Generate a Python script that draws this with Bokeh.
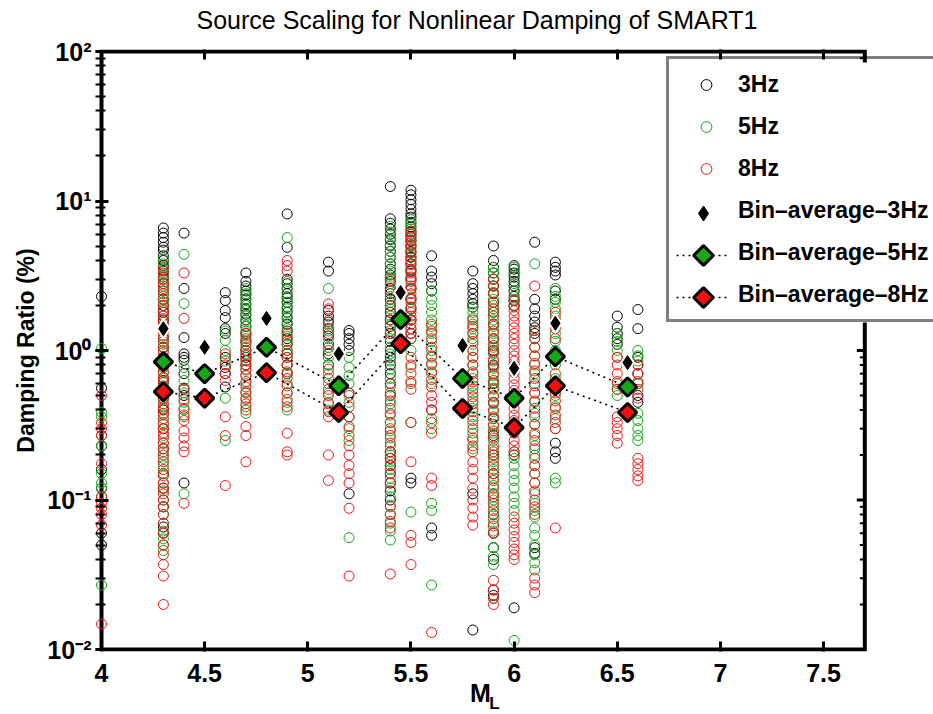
import numpy as np
from bokeh.plotting import figure
from bokeh.models import (Range1d, LinearAxis, FixedTicker,
                          CustomJSTickFormatter, Legend, LegendItem, Label)
from bokeh.embed import file_html
from bokeh.resources import INLINE

FONT = "Liberation Sans"

title_text = "Source Scaling for Nonlinear Damping of SMART1"
y_label = "Damping Ratio (%)"
x_label_main, x_label_sub = "M", "L"
x_ticks = [4.0, 4.5, 5.0, 5.5, 6.0, 6.5, 7.0, 7.5]
y_major_ticks = [0.01, 0.1, 1, 10, 100]
series_labels = ["3Hz", "5Hz", "8Hz",
                 "Bin\u2013average\u20133Hz", "Bin\u2013average\u20135Hz", "Bin\u2013average\u20138Hz"]
axis_x_limits = (4.0, 7.7)
axis_y_limits = (0.01, 100.0)

# damping ratio (%) per local magnitude M_L, for each frequency
damping_3hz = {
    4.0: [2.3, 0.56, 0.23, 0.16, 0.12, 0.06, 0.05],
    4.3: [6.6, 6.1, 5.7, 5.3, 4.9, 4.7, 4.3, 4.0, 3.7, 3.4, 3.1, 2.8, 2.5, 2.2, 2.0, 1.8, 1.6, 1.4,
          1.2, 1.05, 0.9, 0.63, 0.5, 0.4, 0.3, 0.22, 0.15, 0.12, 0.09, 0.066, 0.06],
    4.4: [6.1, 2.6, 1.22, 0.95, 0.9, 0.86, 0.7, 0.56, 0.5, 0.13],
    4.6: [2.44, 2.16, 1.85, 1.66, 1.4, 1.3, 0.9, 0.77, 0.7, 0.57],
    4.7: [3.3, 2.9, 2.7, 2.5, 2.35, 2.2, 2.05, 1.9, 1.75, 1.6, 1.45, 1.3, 1.15, 1.0, 0.9, 0.8],
    4.9: [8.2, 4.9, 3.0, 2.8, 2.6, 2.4, 2.25, 2.1, 1.95, 1.8, 1.65, 1.5, 1.35, 1.2, 1.1, 0.95, 0.8, 0.7],
    5.1: [3.9, 3.4, 1.85, 1.7, 1.55, 1.4, 1.25, 1.1, 0.95, 0.8],
    5.2: [1.36, 1.3, 1.2, 1.1, 1.0, 0.52, 0.11],
    5.4: [12.5, 7.6, 7.1, 6.5, 6.0, 5.5, 5.0, 4.6, 4.2, 3.8, 3.5, 3.2, 2.9, 2.6, 2.4, 2.2, 2.0, 1.8,
          1.6, 1.45, 1.3, 1.15, 1.0, 0.9, 0.8, 0.7, 0.6, 0.5, 0.21, 0.19, 0.17, 0.15, 0.13, 0.115, 0.1],
    5.5: [11.8, 11.0, 10.2, 9.5, 8.8, 8.2, 7.8, 7.2, 6.7, 6.2, 5.8, 5.4, 5.0, 4.6, 4.2, 3.8, 3.4, 3.0,
          2.6, 2.2, 1.9, 1.6, 1.3, 0.14, 0.13],
    5.6: [4.3, 3.4, 3.1, 2.8, 2.5, 0.4, 0.065, 0.058],
    5.8: [3.4, 2.8, 2.6, 2.4, 2.2, 2.05, 1.95, 0.11, 0.0135],
    5.9: [5.0, 4.0, 3.6, 3.3, 3.0, 2.7, 2.4, 2.1, 1.8, 1.5, 1.2, 1.0, 0.8, 0.6, 0.45, 0.35, 0.27, 0.2,
          0.15, 0.11, 0.08, 0.06, 0.048, 0.04, 0.025, 0.023],
    6.0: [3.7, 3.5, 3.3, 3.1, 2.9, 2.7, 2.5, 2.3, 2.15, 2.0, 0.8, 0.5, 0.3, 0.2, 0.019],
    6.1: [5.3, 2.2, 1.9, 1.7, 1.55, 1.42, 1.3, 0.048, 0.044],
    6.2: [3.9, 3.6, 3.4, 3.2, 2.5, 2.2, 0.24, 0.21, 0.19],
    6.5: [1.7, 1.43, 1.3, 1.2, 1.1],
    6.6: [1.88, 1.4, 0.9, 0.8, 0.7, 0.6, 0.5, 0.45],
}
damping_5hz = {
    4.0: [1.03, 0.385, 0.36, 0.27, 0.23, 0.15, 0.13, 0.12, 0.105, 0.027],
    4.3: [4.1, 3.8, 3.5, 3.2, 3.0, 2.7, 2.5, 2.3, 2.1, 1.9, 1.7, 1.5, 1.35, 1.2, 1.1, 1.0, 0.9, 0.8,
          0.72, 0.65, 0.58, 0.52, 0.47, 0.42, 0.37, 0.33, 0.3, 0.27, 0.24, 0.21, 0.19, 0.17, 0.15,
          0.13, 0.115, 0.1, 0.09, 0.08, 0.07, 0.062, 0.055, 0.05, 0.046],
    4.4: [4.4, 2.06, 0.77, 0.63, 0.52, 0.45, 0.4, 0.36, 0.11],
    4.6: [1.35, 1.17, 1.0, 0.85, 0.48, 0.25],
    4.7: [2.6, 2.4, 2.2, 2.0, 1.85, 1.7, 1.55, 1.45, 1.35, 1.25, 1.15, 1.05, 0.95, 0.85, 0.75, 0.68,
          0.6, 0.53, 0.47, 0.42, 0.38],
    4.9: [5.7, 2.9, 2.6, 2.3, 2.1, 1.9, 1.7, 1.55, 1.4, 1.25, 1.1, 1.0, 0.9, 0.8, 0.7, 0.6, 0.52, 0.45, 0.4],
    5.1: [2.6, 1.5, 1.35, 1.2, 1.05, 0.9, 0.8, 0.7, 0.6, 0.52, 0.45, 0.4],
    5.2: [0.9, 0.77, 0.68, 0.6, 0.45, 0.36, 0.3, 0.25, 0.056],
    5.4: [6.8, 6.2, 5.6, 5.1, 4.6, 4.2, 3.8, 3.4, 3.1, 2.8, 2.5, 2.3, 2.1, 1.9, 1.7, 1.5, 1.35, 1.2,
          1.05, 0.95, 0.85, 0.75, 0.65, 0.57, 0.5, 0.44, 0.38, 0.33, 0.29, 0.26, 0.23, 0.2, 0.18, 0.16,
          0.14, 0.12, 0.105, 0.092, 0.08, 0.07, 0.062, 0.054],
    5.5: [7.5, 7.0, 6.5, 6.0, 5.5, 5.0, 4.5, 4.0, 3.5, 3.0, 2.6, 2.2, 1.9, 1.6, 1.4, 1.2, 1.0, 0.77,
          0.6, 0.33, 0.083],
    5.6: [2.5, 2.2, 2.0, 1.8, 1.6, 1.45, 1.3, 1.15, 1.0, 0.9, 0.8, 0.7, 0.6, 0.35, 0.3, 0.095, 0.085, 0.027],
    5.8: [1.95, 1.8, 1.65, 1.5, 1.4, 1.3, 1.2, 1.1, 1.0, 0.9, 0.8, 0.72, 0.65, 0.58, 0.52, 0.46, 0.41,
          0.36, 0.32, 0.28, 0.25, 0.22],
    5.9: [3.6, 3.3, 3.0, 2.7, 2.45, 2.2, 2.0, 1.8, 1.6, 1.45, 1.3, 1.15, 1.05, 0.95, 0.85, 0.76, 0.68,
          0.61, 0.55, 0.49, 0.44, 0.39, 0.35, 0.31, 0.28, 0.25, 0.22, 0.2, 0.18, 0.16, 0.14, 0.125,
          0.11, 0.1, 0.09, 0.08, 0.07, 0.062, 0.048, 0.042, 0.037, 0.022],
    6.0: [3.6, 3.2, 2.8, 2.5, 2.2, 1.95, 0.21, 0.19, 0.17, 0.15, 0.135, 0.12, 0.105, 0.095, 0.085, 0.0115],
    6.1: [3.8, 1.36, 1.2, 1.05, 0.92, 0.8, 0.7, 0.6, 0.52, 0.45, 0.38, 0.32, 0.27, 0.23, 0.2, 0.17,
          0.15, 0.13, 0.11, 0.095, 0.085, 0.077, 0.065, 0.058, 0.05, 0.043, 0.038, 0.034],
    6.2: [2.6, 2.3, 2.1, 1.9, 1.7, 1.5, 1.3, 1.15, 1.0, 0.8, 0.65, 0.5, 0.42, 0.35, 0.3, 0.14, 0.13],
    6.5: [1.3, 1.15, 1.0, 0.9, 0.6, 0.55, 0.5],
    6.6: [1.0, 0.92, 0.85, 0.6, 0.38, 0.34, 0.3, 0.27, 0.25],
}
damping_8hz = {
    4.0: [0.5, 0.33, 0.3, 0.27, 0.175, 0.105, 0.095, 0.088, 0.08, 0.068, 0.0148],
    4.3: [3.6, 3.3, 3.0, 2.8, 2.6, 2.4, 2.2, 2.0, 1.85, 1.7, 1.55, 1.45, 1.35, 1.25, 1.15, 1.05, 0.97,
          0.9, 0.83, 0.77, 0.71, 0.66, 0.61, 0.56, 0.52, 0.48, 0.44, 0.41, 0.38, 0.35, 0.32, 0.3, 0.28,
          0.26, 0.24, 0.22, 0.2, 0.18, 0.16, 0.145, 0.13, 0.12, 0.11, 0.1, 0.09, 0.08, 0.07, 0.06,
          0.05, 0.043, 0.037, 0.031, 0.02],
    4.4: [3.3, 1.64, 0.55, 0.47, 0.41, 0.37, 0.34, 0.29, 0.26, 0.23, 0.21, 0.095],
    4.6: [0.95, 0.8, 0.7, 0.63, 0.36, 0.27, 0.125],
    4.7: [1.3, 1.2, 1.1, 1.0, 0.93, 0.86, 0.8, 0.74, 0.68, 0.62, 0.57, 0.52, 0.48, 0.44, 0.4, 0.31, 0.27, 0.18],
    4.9: [4.0, 3.7, 3.4, 1.3, 1.15, 1.0, 0.9, 0.8, 0.72, 0.65, 0.58, 0.52, 0.47, 0.42, 0.28, 0.21, 0.2],
    5.1: [2.05, 1.9, 1.6, 1.3, 1.0, 0.75, 0.65, 0.55, 0.5, 0.44, 0.39, 0.36, 0.2, 0.135],
    5.2: [0.5, 0.42, 0.36, 0.31, 0.27, 0.23, 0.2, 0.17, 0.15, 0.13, 0.088, 0.031],
    5.4: [3.0, 2.5, 2.0, 1.6, 1.3, 0.6, 0.52, 0.46, 0.41, 0.37, 0.33, 0.3, 0.27, 0.24, 0.21, 0.19, 0.17,
          0.15, 0.13, 0.09, 0.08, 0.072, 0.065, 0.032],
    5.5: [6.3, 6.0, 5.7, 5.4, 5.1, 4.8, 4.5, 4.25, 4.0, 3.75, 3.5, 3.3, 3.1, 2.9, 2.7, 2.55, 2.4, 2.25,
          2.1, 1.95, 1.8, 1.7, 1.6, 1.5, 1.4, 1.3, 1.2, 0.9, 0.8, 0.7, 0.62, 0.55, 0.33, 0.18, 0.058,
          0.052, 0.037],
    5.6: [1.5, 1.35, 1.2, 1.05, 0.92, 0.82, 0.72, 0.64, 0.57, 0.5, 0.45, 0.4, 0.33, 0.28, 0.14, 0.125, 0.013],
    5.8: [1.6, 1.45, 1.3, 1.15, 1.0, 0.9, 0.8, 0.7, 0.62, 0.55, 0.49, 0.44, 0.39, 0.34, 0.3, 0.26, 0.23,
          0.21, 0.18, 0.16, 0.14, 0.12, 0.1, 0.088, 0.077, 0.068],
    5.9: [3.0, 2.7, 2.4, 2.1, 1.9, 1.7, 1.5, 1.35, 1.2, 1.08, 0.97, 0.87, 0.78, 0.7, 0.63, 0.56, 0.5,
          0.45, 0.4, 0.36, 0.32, 0.29, 0.26, 0.23, 0.21, 0.19, 0.17, 0.15, 0.135, 0.12, 0.105, 0.095,
          0.085, 0.075, 0.067, 0.06, 0.029, 0.025, 0.022, 0.02],
    6.0: [2.16, 2.0, 1.85, 1.7, 1.55, 1.42, 1.3, 1.2, 1.1, 1.0, 0.92, 0.85, 0.78, 0.71, 0.65, 0.59, 0.54,
          0.49, 0.45, 0.41, 0.37, 0.34, 0.31, 0.28, 0.25, 0.23, 0.21, 0.077, 0.07, 0.063, 0.057, 0.052,
          0.047, 0.043, 0.04],
    6.1: [2.7, 1.36, 1.2, 1.05, 0.92, 0.82, 0.73, 0.65, 0.58, 0.52, 0.46, 0.41, 0.36, 0.32, 0.28, 0.25,
          0.22, 0.19, 0.17, 0.15, 0.13, 0.115, 0.1, 0.09, 0.08, 0.03, 0.027, 0.024],
    6.2: [1.8, 1.6, 1.4, 1.2, 0.7, 0.6, 0.52, 0.46, 0.41, 0.37, 0.33, 0.3, 0.065],
    6.5: [0.9, 0.8, 0.7, 0.62, 0.55, 0.36, 0.33, 0.3, 0.27, 0.24],
    6.6: [0.8, 0.7, 0.62, 0.55, 0.48, 0.19, 0.175, 0.16, 0.145, 0.135],
}

bin_ml = [4.3, 4.5, 4.8, 5.15, 5.45, 5.75, 6.0, 6.2, 6.55]
bin_avg_3hz = [1.40, 1.05, 1.64, 0.95, 2.44, 1.08, 0.76, 1.52, 0.83]
bin_avg_5hz = [0.84, 0.70, 1.05, 0.58, 1.61, 0.65, 0.48, 0.91, 0.57]
bin_avg_8hz = [0.53, 0.48, 0.71, 0.385, 1.11, 0.41, 0.305, 0.58, 0.385]

BLACK = "#000000"
GREEN = "#14a814"
RED = "#f01818"
GREEN_FILL = "#17a817"
RED_FILL = "#ee1111"

# ---- geometry (pixels) ----
PX_PER_ML = 206.3        # horizontal pixels per magnitude unit
PX_PER_DECADE = 149.5    # vertical pixels per decade
BOX_LEFT, BOX_TOP = 99, 51
PAD_LEFT, PAD_V = 6, 2   # frame extends slightly beyond the drawn box
CANVAS_W, CANVAS_H = 933, 714

frame_left = BOX_LEFT - PAD_LEFT
frame_top = BOX_TOP - PAD_V
frame_w = CANVAS_W - frame_left
frame_h = int(round(PX_PER_DECADE * np.log10(axis_y_limits[1] / axis_y_limits[0]))) + 2 * PAD_V
frame_bottom = frame_top + frame_h

x_start = axis_x_limits[0] - PAD_LEFT / PX_PER_ML
x_end = x_start + frame_w / PX_PER_ML
y_start = axis_y_limits[0] / 10 ** (PAD_V / PX_PER_DECADE)
y_end = axis_y_limits[1] * 10 ** (PAD_V / PX_PER_DECADE)


def px_to_x(px):
    return x_start + (px - frame_left) / PX_PER_ML


def py_to_y(py):
    return y_end / 10 ** ((py - frame_top) / PX_PER_DECADE)


def flatten(table):
    xs, ys = [], []
    for ml, vals in table.items():
        xs.extend([ml] * len(vals))
        ys.extend(vals)
    return xs, ys


p = figure(output_backend="svg", toolbar_location=None, title=None,
           x_range=Range1d(x_start, x_end), y_range=Range1d(y_start, y_end), y_axis_type="log",
           frame_width=frame_w, frame_height=frame_h,
           min_border_left=frame_left, min_border_right=0, min_border_top=frame_top,
           min_border_bottom=CANVAS_H - frame_bottom,
           background_fill_color="white", border_fill_color="white")
p.grid.visible = False
p.outline_line_color = None

sup_js = """
const sup = {"-": "\u207b", "0": "\u2070", "1": "\u00b9", "2": "\u00b2", "3": "\u00b3"};
const e = Math.round(Math.log10(tick));
return "10" + String(e).split("").map(c => sup[c]).join("");
"""


def style_axis(ax, tick_in, minor_in):
    ax.axis_line_color = None
    ax.major_tick_in = tick_in
    ax.major_tick_out = 0
    ax.major_tick_line_width = 3
    ax.major_tick_line_color = "black"
    ax.minor_tick_in = minor_in
    ax.minor_tick_out = 0
    ax.minor_tick_line_width = 2
    ax.minor_tick_line_color = "black"
    ax.major_label_text_font = FONT
    ax.major_label_text_font_style = "bold"
    ax.major_label_text_font_size = "25px"
    ax.major_label_text_color = "black"


# left (log) axis
yax = p.yaxis[0]
style_axis(yax, 13, 10)
yax.formatter = CustomJSTickFormatter(code=sup_js)
yax.major_label_standoff = 4
yax.axis_label = y_label
yax.axis_label_text_font = FONT
yax.axis_label_text_font_style = "bold"
yax.axis_label_text_font_size = "23px"
yax.axis_label_text_color = "black"
yax.axis_label_standoff = 5

# bottom axis
xax = p.xaxis[0]
style_axis(xax, 10, 0)
xax.ticker = FixedTicker(ticks=x_ticks, minor_ticks=[])
xax.formatter = CustomJSTickFormatter(code="return String(tick);")
xax.major_label_standoff = 12

# top axis (ticks only)
top_ax = LinearAxis(ticker=FixedTicker(ticks=x_ticks[1:], minor_ticks=[]),
                    formatter=CustomJSTickFormatter(code="return '';"))
style_axis(top_ax, 10, 0)
top_ax.major_label_standoff = 0
top_ax.major_label_text_font_size = "1px"
p.add_layout(top_ax, "above")

# title (placed in the top panel so it sits like the original)
p.add_layout(Label(x=101, y=30, x_units="screen", y_units="screen", text=title_text,
                   text_font=FONT, text_font_size="25px", text_font_style="normal",
                   text_color="black", text_align="left", text_baseline="alphabetic"), "above")

# axes box (MATLAB style) drawn on the plot's own scales
box_x = [axis_x_limits[0], axis_x_limits[1], axis_x_limits[1], axis_x_limits[0], axis_x_limits[0]]
box_y = [axis_y_limits[0], axis_y_limits[0], axis_y_limits[1], axis_y_limits[1], axis_y_limits[0]]
p.line(box_x, box_y, line_color="black", line_width=4, line_join="miter")

# right-hand ticks of the box
minor_vals = [m * 10.0 ** k for k in range(-2, 2) for m in range(2, 10)]
xr = axis_x_limits[1]
p.segment(x0=[xr] * len(y_major_ticks), x1=[xr - 8 / PX_PER_ML] * len(y_major_ticks),
          y0=y_major_ticks, y1=y_major_ticks, line_color="black", line_width=3)
p.segment(x0=[xr] * len(minor_vals), x1=[xr - 5 / PX_PER_ML] * len(minor_vals),
          y0=minor_vals, y1=minor_vals, line_color="black", line_width=2)

# scatter of all records
x3, y3 = flatten(damping_3hz)
x5, y5 = flatten(damping_5hz)
x8, y8 = flatten(damping_8hz)
c3 = p.scatter(x3, y3, marker="circle", size=10, line_color=BLACK, fill_color=None, line_width=1)
c5 = p.scatter(x5, y5, marker="circle", size=10, line_color=GREEN, fill_color=None, line_width=1)
c8 = p.scatter(x8, y8, marker="circle", size=10, line_color=RED, fill_color=None, line_width=1)

# bin averages
p.line(bin_ml, bin_avg_5hz, line_color="black", line_width=1.6, line_dash="2 4")
p.line(bin_ml, bin_avg_8hz, line_color="black", line_width=1.6, line_dash="2 4")
p.scatter(bin_ml, bin_avg_3hz, marker="diamond", size=21, fill_color="white", line_color="white")
p.scatter(bin_ml, bin_avg_3hz, marker="diamond", size=14, fill_color="black", line_color="black")
p.scatter(bin_ml, bin_avg_5hz, marker="square", angle=np.pi / 4, size=13,
          fill_color=GREEN_FILL, line_color="black", line_width=3)
p.scatter(bin_ml, bin_avg_8hz, marker="square", angle=np.pi / 4, size=13,
          fill_color=RED_FILL, line_color="black", line_width=3)

# x-axis label M_L
p.add_layout(Label(x=385, y=20, x_units="screen", y_units="screen", text=x_label_main,
                   text_font=FONT, text_font_style="bold", text_font_size="25px",
                   text_align="center", text_baseline="middle", text_color="black"), "below")
p.add_layout(Label(x=494, y=-52, x_units="screen", y_units="screen", text=x_label_sub,
                   text_font=FONT, text_font_style="bold", text_font_size="17px",
                   text_align="center", text_baseline="middle", text_color="black"), "left")

# ---- legend ----
LEG_LEFT, LEG_TOP, LEG_RIGHT = 664, 62, 950
pad, row_h, gap = 10, 30, 12
glyph_w, standoff = 54, 5
leg_h = 2 * pad + 6 * row_h + 5 * gap
row_centers = [LEG_TOP + pad + row_h / 2 + k * (row_h + gap) for k in range(6)]
glyph_cx = LEG_LEFT + pad + glyph_w / 2

# white background of the legend box (covers the records behind it)
p.quad(left=[px_to_x(LEG_LEFT)], right=[px_to_x(LEG_RIGHT)],
       top=[py_to_y(LEG_TOP)], bottom=[py_to_y(LEG_TOP + leg_h)],
       fill_color="white", line_color=None)

# key glyphs for the bin-average entries
gx = px_to_x(glyph_cx)
gy = [py_to_y(c) for c in row_centers[3:]]
for yk in gy[1:]:
    p.line([px_to_x(glyph_cx - glyph_w / 2), px_to_x(glyph_cx + glyph_w / 2)], [yk, yk],
           line_color="black", line_width=1.6, line_dash="2 4")
p.scatter([gx], [gy[0]], marker="diamond", size=15, fill_color="black", line_color="black")
p.scatter([gx], [gy[1]], marker="square", angle=np.pi / 4, size=14,
          fill_color=GREEN_FILL, line_color="black", line_width=3)
p.scatter([gx], [gy[2]], marker="square", angle=np.pi / 4, size=14,
          fill_color=RED_FILL, line_color="black", line_width=3)

dummy = p.scatter([], [], marker="circle", size=1, line_alpha=0, fill_alpha=0)
legend = Legend(items=[
    LegendItem(label=series_labels[0], renderers=[c3]),
    LegendItem(label=series_labels[1], renderers=[c5]),
    LegendItem(label=series_labels[2], renderers=[c8]),
    LegendItem(label=series_labels[3], renderers=[dummy]),
    LegendItem(label=series_labels[4], renderers=[dummy]),
    LegendItem(label=series_labels[5], renderers=[dummy]),
], location=(LEG_LEFT - frame_left, frame_bottom - (LEG_TOP + leg_h)))
legend.label_text_font = FONT
legend.label_text_font_style = "bold"
legend.label_text_font_size = "23px"
legend.label_text_color = "black"
legend.glyph_width = glyph_w
legend.glyph_height = 27
legend.label_height = row_h
legend.spacing = gap
legend.padding = pad
legend.label_standoff = standoff
legend.label_width = 215
legend.margin = 0
legend.border_line_color = "black"
legend.border_line_width = 3
legend.background_fill_alpha = 0
p.add_layout(legend)

with open("out.html", "w", encoding="utf-8") as f:
    f.write(file_html(p, INLINE))
